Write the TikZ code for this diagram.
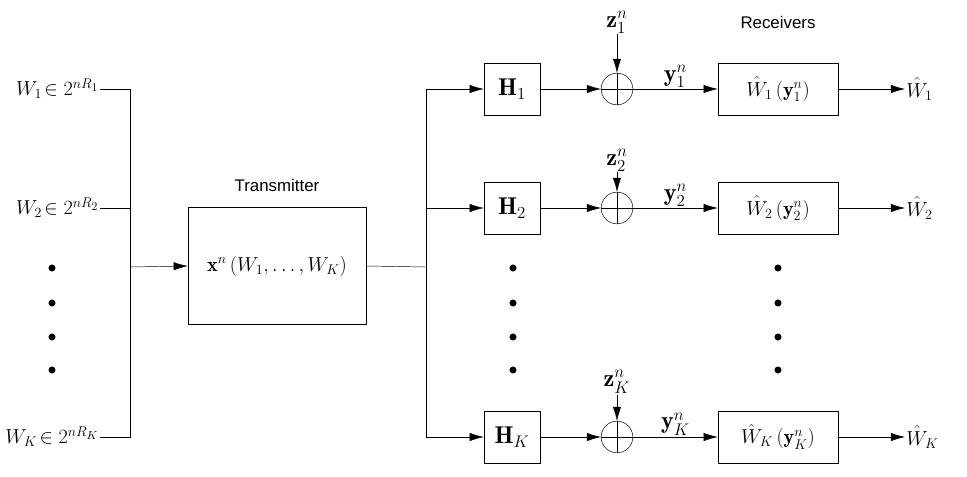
\documentclass[tikz,border=0pt]{standalone}
\usepackage{amsmath,amssymb}
\usepackage{fontspec}
\setsansfont{Liberation Sans}
\usepackage{tikz}
\usetikzlibrary{arrows.meta,positioning,calc}

\begin{document}
\begin{tikzpicture}[
    x=0.03cm, y=-0.03cm,
    blk/.style={rectangle, draw, fill=white, inner sep=0pt},
    sum/.style={circle, draw, minimum size=0.95cm, inner sep=0pt},
    dot/.style={circle, fill, inner sep=0pt, minimum size=6pt},
    lbl/.style={font=\LARGE},
    arr/.style={-{Latex[length=12pt,width=7pt]}},
  ]
  \useasboundingbox (0,0) rectangle (967,477);

  % Inputs
  \node[lbl, anchor=east, inner sep=1pt] (w1) at (100,89) {$W_1\!\in 2^{nR_1}$};
  \node[lbl, anchor=east, inner sep=1pt] (w2) at (100,208) {$W_2\!\in 2^{nR_2}$};
  \node[lbl, anchor=east, inner sep=1pt] (wk) at (100,437) {$W_K\!\in 2^{nR_K}$};
  \foreach \y in {268,303,337,370}
    \node[dot] at (52,\y) {};
  \coordinate (c1) at (130,89);
  \coordinate (c2) at (130,208);
  \coordinate (ck) at (130,437);
  \coordinate (cm) at (130,267);

  % Transmitter
  \node[blk, minimum width=5.34cm, minimum height=3.51cm, font=\LARGE] (tx) at (277,266)
    {$\mathbf{x}^n\left(W_1,\ldots,W_K\right)$};
  \node[font=\sffamily\Large, above=0.35cm of tx] {Transmitter};
  \coordinate (s1) at (426,89);
  \coordinate (s2) at (426,208);
  \coordinate (sk) at (426,437);
  \coordinate (sm) at (426,267);

  \draw (w1.east) -- (c1) -- (ck) -- (wk.east);
  \draw (w2.east) -- (c2);
  \draw[arr] (cm) -- (tx.west);
  \draw (tx.east) -- (sm);
  \draw (s1) -- (sk);

  % Branches
  \foreach \i/\y/\s/\zy in {1/89/1/22, 2/208/2/160, k/437/K/382} {
    \node[blk, minimum width=1.68cm, minimum height=1.56cm, font=\huge] (h\i) at (512,\y) {$\mathbf{H}_{\s}$};
    \node[sum] (a\i) at (617,\y) {};
    \draw (a\i.north) -- (a\i.south) (a\i.west) -- (a\i.east);
    \node[font=\huge, inner sep=1pt] (z\i) at (617,\zy) {$\mathbf{z}_{\s}^n$};
    \node[blk, minimum width=3.6cm, minimum height=1.56cm, font=\LARGE] (r\i) at (778,\y)
      {$\hat{W}_{\s}\left(\mathbf{y}_{\s}^n\right)$};
    \node[lbl, anchor=west, inner sep=1pt] (o\i) at (905,\y) {$\hat{W}_{\s}$};
    \draw[arr] (s\i |- h\i) -- (h\i.west);
    \draw[arr] (h\i.east) -- (a\i.west);
    \draw[arr] (z\i.south) -- (a\i.north);
    \draw[arr] (a\i.east) -- node[above, font=\huge, inner sep=1pt] {$\mathbf{y}_{\s}^n$} (r\i.west);
    \draw[arr] (r\i.east) -- (o\i.west);
  }
  \node[font=\sffamily\Large] at (778,22) {Receivers};
  \foreach \y in {268,303,337,370}
    \node[dot] at (513,\y) {};
  \foreach \y in {268,303,337,370}
    \node[dot] at (778,\y) {};
\end{tikzpicture}
\end{document}
